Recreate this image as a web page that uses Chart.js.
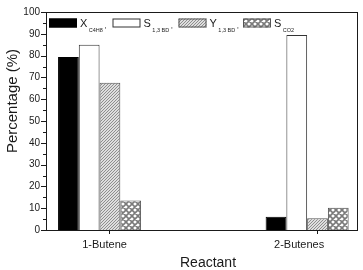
<!DOCTYPE html>
<html>
<head>
<meta charset="utf-8">
<script src="https://cdn.jsdelivr.net/npm/chart.js@4.4.0/dist/chart.umd.min.js"></script>
<style>
  html, body { margin: 0; padding: 0; background: #fff; }
  #contenedor { width: 363px; height: 270px; }
</style>
</head>
<body>
<div id="contenedor"><canvas id="graficoReactantes" width="363" height="270"></canvas></div>
<script>
// --- Datos ---
const categorias = ['1-Butene', '2-Butenes'];
const posCategorias = [1, 2];
const conversionC4H8 = [79.4, 6.1];
const selectividad13BD = [85, 89.4];
const rendimiento13BD = [67.6, 5.4];
const selectividadCO2 = [13.5, 10.2];
const ticksY = [0, 10, 20, 30, 40, 50, 60, 70, 80, 90, 100];
const letrasSerie = ['X', 'S', 'Y', 'S'];
const subindicesSerie = ['C4H8', '1,3 BD', '1,3 BD', 'CO2'];

Chart.defaults.font.family = "'Liberation Sans', Arial, sans-serif";
Chart.defaults.color = '#1a1a1a';

const canvas = document.getElementById('graficoReactantes');
const ctx = canvas.getContext('2d');

// Patrón de rayas diagonales finas (Y)
function patronRayado() {
    const c = document.createElement('canvas');
    c.width = 3; c.height = 3;
    const g = c.getContext('2d');
    g.fillStyle = '#dedede';
    g.fillRect(0, 0, 3, 3);
    g.strokeStyle = '#858585';
    g.lineWidth = 0.9;
    g.beginPath();
    g.moveTo(-1, 1); g.lineTo(1, -1);
    g.moveTo(0, 3); g.lineTo(3, 0);
    g.moveTo(2, 4); g.lineTo(4, 2);
    g.stroke();
    return ctx.createPattern(c, 'repeat');
}

// Patrón cuadriculado diagonal (S CO2)
function patronCuadros() {
    const c = document.createElement('canvas');
    c.width = 6; c.height = 6;
    const g = c.getContext('2d');
    g.fillStyle = '#ffffff';
    g.fillRect(0, 0, 6, 6);
    g.strokeStyle = '#7a7a7a';
    g.lineWidth = 1.6;
    g.beginPath();
    g.moveTo(0, 0); g.lineTo(6, 6);
    g.moveTo(-1, 5); g.lineTo(1, 7);
    g.moveTo(5, -1); g.lineTo(7, 1);
    g.moveTo(0, 6); g.lineTo(6, 0);
    g.moveTo(-1, 1); g.lineTo(1, -1);
    g.moveTo(5, 7); g.lineTo(7, 5);
    g.stroke();
    return ctx.createPattern(c, 'repeat');
}

function puntos(valores) {
    return valores.map((v, i) => ({ x: posCategorias[i], y: v }));
}

// Marco, marcas de ejes, títulos y leyenda con subíndices
const marcoPlugin = {
    id: 'marco',
    afterDraw(chart) {
        const c = chart.ctx;
        const a = chart.chartArea;
        const sx = chart.scales.x;
        const sy = chart.scales.y;
        c.save();
        c.strokeStyle = '#1a1a1a';
        c.lineWidth = 1;

        // marco
        c.strokeRect(Math.round(a.left) + 0.5, Math.round(a.top) + 0.5,
            Math.round(a.right - a.left) - 1, Math.round(a.bottom - a.top));

        // marcas eje Y (mayores y menores)
        c.beginPath();
        for (let v = 0; v <= 100; v += 5) {
            const y = Math.round(sy.getPixelForValue(v)) + 0.5;
            const largo = v % 10 === 0 ? 5 : 3;
            c.moveTo(a.left - largo, y);
            c.lineTo(a.left, y);
        }
        // marcas eje X
        posCategorias.forEach(p => {
            const x = Math.round(sx.getPixelForValue(p + 0.046)) + 0.5;
            c.moveTo(x, a.bottom);
            c.lineTo(x, a.bottom + 4);
        });
        c.stroke();

        c.fillStyle = '#1a1a1a';
        // etiquetas eje X
        const desplaz = [5, -8];
        c.font = "11px 'Liberation Sans', Arial, sans-serif";
        c.textAlign = 'center';
        c.textBaseline = 'middle';
        categorias.forEach((txt, i) => {
            c.fillText(txt, sx.getPixelForValue(posCategorias[i]) + desplaz[i], a.bottom + 15);
        });

        // título eje X
        c.font = "14px 'Liberation Sans', Arial, sans-serif";
        c.fillText('Reactant', (a.left + a.right) / 2 + 6, a.bottom + 33);

        // título eje Y
        c.save();
        c.translate(13, 101);
        c.rotate(-Math.PI / 2);
        c.font = "15px 'Liberation Sans', Arial, sans-serif";
        c.fillText('Percentage (%)', 0, 0);
        c.restore();

        // leyenda
        const cajaX = [49, 112.5, 178.5, 243];
        c.textAlign = 'left';
        c.textBaseline = 'alphabetic';
        chart.data.datasets.forEach((ds, i) => {
            const x = cajaX[i];
            const y = a.top + 6.5;
            c.fillStyle = ds.backgroundColor;
            c.fillRect(x, y, 28, 9);
            c.strokeStyle = ds.borderColor;
            c.strokeRect(x + 0.5, y + 0.5, 27, 8);
            c.fillStyle = '#1a1a1a';
            let tx = x + 31;
            c.font = "11px 'Liberation Sans', Arial, sans-serif";
            c.fillText(letrasSerie[i], tx, a.top + 15);
            tx += c.measureText(letrasSerie[i]).width + 1.5;
            c.font = "5.5px 'Liberation Sans', Arial, sans-serif";
            c.fillText(subindicesSerie[i], tx, a.top + 19.5);
            tx += c.measureText(subindicesSerie[i]).width + 1.5;
            if (i < chart.data.datasets.length - 1) {
                c.font = "8px 'Liberation Sans', Arial, sans-serif";
                c.fillText(',', tx, a.top + 16);
            }
        });
        c.restore();
    }
};

new Chart(canvas, {
    type: 'bar',
    data: {
        datasets: [
            { label: letrasSerie[0] + subindicesSerie[0], data: puntos(conversionC4H8),
              backgroundColor: '#000000', borderColor: '#000000', borderWidth: 1 },
            { label: letrasSerie[1] + subindicesSerie[1], data: puntos(selectividad13BD),
              backgroundColor: '#ffffff', borderColor: '#333333', borderWidth: 1 },
            { label: letrasSerie[2] + subindicesSerie[2], data: puntos(rendimiento13BD),
              backgroundColor: patronRayado(), borderColor: '#555555', borderWidth: 1 },
            { label: letrasSerie[3] + subindicesSerie[3], data: puntos(selectividadCO2),
              backgroundColor: patronCuadros(), borderColor: '#555555', borderWidth: 1 }
        ]
    },
    options: {
        responsive: false,
        animation: false,
        layout: { padding: { top: 7, right: 5, left: 0, bottom: 0 } },
        datasets: {
            bar: { categoryPercentage: 0.4, barPercentage: 1 }
        },
        scales: {
            x: {
                type: 'linear',
                min: 0.742,
                max: 2.245,
                offset: false,
                ticks: { display: false },
                grid: { display: false, drawTicks: false },
                border: { display: false },
                afterBuildTicks: s => { s.ticks = posCategorias.map(v => ({ value: v })); },
                afterFit: s => { s.height = 40; }
            },
            y: {
                min: 0,
                max: 100,
                ticks: { font: { size: 10 }, padding: 6, color: '#1a1a1a' },
                grid: { display: false, drawTicks: false },
                border: { display: false },
                afterBuildTicks: s => { s.ticks = ticksY.map(v => ({ value: v })); },
                afterFit: s => { s.width = 46; }
            }
        },
        plugins: {
            legend: { display: false },
            tooltip: { enabled: false }
        }
    },
    plugins: [marcoPlugin]
});
</script>
</body>
</html>
